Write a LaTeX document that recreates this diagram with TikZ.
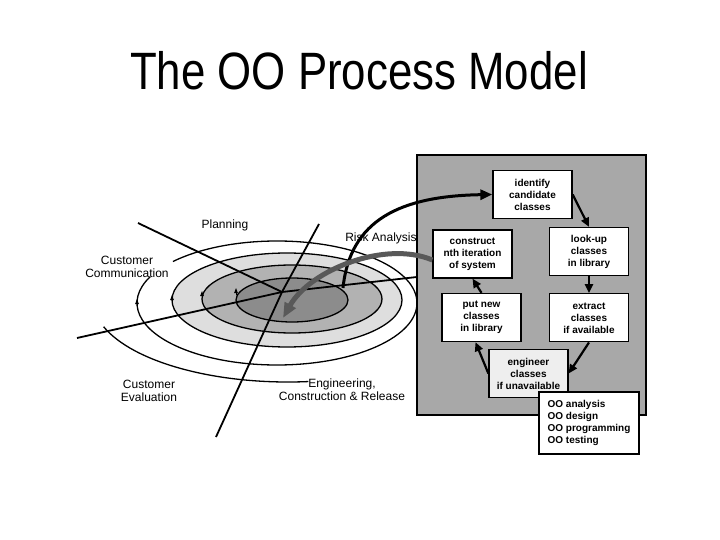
\documentclass[tikz,border=0pt]{standalone}
\usepackage{fontspec}
\setmainfont{Liberation Sans}
\usepackage{graphicx}
\usepackage{tikz}
\usetikzlibrary{
	positioning,
	arrows.meta
}

\definecolor{panelgray}{HTML}{A8A8A8}
\definecolor{ringlight}{HTML}{DEDEDE}
\definecolor{ringmid}{HTML}{B2B2B2}
\definecolor{ringdark}{HTML}{8C8C8C}
\definecolor{riskgray}{HTML}{595959}
\definecolor{engfill}{HTML}{EEEEEE}

\tikzset{
	task/.style={draw,line width=1.3pt,fill=white,minimum width=79pt,minimum height=48pt,
		align=center,inner sep=1pt,font=\fontsize{10}{12}\selectfont\bfseries},
	flow/.style={-{Triangle[length=9pt,width=8pt]},line width=2.2pt},
	ring/.style={line width=1.3pt},
	axis/.style={line width=1.8pt},
	phase/.style={align=center,inner sep=0pt,font=\fontsize{12}{13}\selectfont},
	ringtip/.style={-{Triangle[length=5pt,width=3.5pt]},line width=0.8pt}
}

\begin{document}
\begin{tikzpicture}[x=1pt,y=-1pt]
		\useasboundingbox (0,0) rectangle (720,540);

		\node[anchor=base] (title) at (359,90)
			{\fontsize{43.8}{50}\selectfont\scalebox{1}[1.2]{The OO Process Model}};

		% spiral
		\coordinate (hub) at (282,292);
		\draw[ring,fill=ringlight] (287,300) ellipse[x radius=115,y radius=47];
		\draw[ring,fill=ringmid]   (292,299) ellipse[x radius=90,y radius=34];
		\draw[ring,fill=ringdark]  (292,300) ellipse[x radius=56,y radius=22];
		\draw[ring] ([shift={(-138:140 and 62)}]277,303)
			arc[start angle=-138,end angle=205,x radius=140,y radius=62];
		\draw[ring] ([shift={(-199:195 and 82)}]288,300)
			arc[start angle=-199,end angle=-276,x radius=195,y radius=82];
		\foreach \x/\y in {137/302,172/298,202/294,236/291}
			\draw[ringtip] (\x,\y+4) -- (\x,\y-3);

		\draw[axis] (138,223) -- (hub);
		\draw[axis] (319,224) -- (hub) -- (216,437);
		\draw[axis] (77,338) -- (hub) -- (417,277);

		\node[phase] (planning) at (225,225) {Planning};
		\node[phase] (risk)     at (381,238) {Risk Analysis};
		\node[phase] (custcomm) at (127,267) {Customer\\Communication};
		\node[phase] (custeval) at (149,391) {Customer\\Evaluation};
		\node[phase] (engin)    at (342,390) {Engineering,\\Construction \& Release};

		% object-oriented side
		\node[draw,line width=1.8pt,fill=panelgray,minimum width=229pt,minimum height=260pt]
			(panel) at (531.5,285) {};

		\draw
			node[task] (identify)  at (532.5,194.5) {identify\\candidate\\classes}
			node[task] (construct) at (472.5,254)   {construct\\nth iteration\\of system}
			node[task] (lookup)    at (589,251.5)   {look-up\\classes\\in library}
			node[task,below=17pt of lookup] (extract) {extract\\classes\\if available}
			node[task] (putnew)    at (481.5,317.5) {put new\\classes\\in library}
			node[task,fill=engfill] (engineer) at (528.5,373.5) {engineer\\classes\\if unavailable}
			node[task,align=left,minimum width=100pt,minimum height=62pt] (oolist) at (589,423)
				{OO analysis\\OO design\\OO programming\\OO testing}

			(identify.east)  edge[flow] (lookup.north)
			(lookup.south)   edge[flow] (extract.north)
			(extract.south)  edge[flow] (engineer.east)
			(engineer.west)  edge[flow] ([xshift=-6pt]putnew.south)
			(putnew.north)   edge[flow] (construct.south)
		;

		\coordinate (riskstart) at (343,288);
		\draw[-{Triangle[length=12pt,width=10pt]},line width=3pt]
			(riskstart) .. controls (350,220) and (400,196) .. (identify.west);
		\draw[-{Triangle[length=15pt,width=12pt]},line width=5pt,riskgray]
			([yshift=-6pt]construct.west) .. controls (385,240) and (310,270) .. (283,318);
	\end{tikzpicture}
\end{document}
